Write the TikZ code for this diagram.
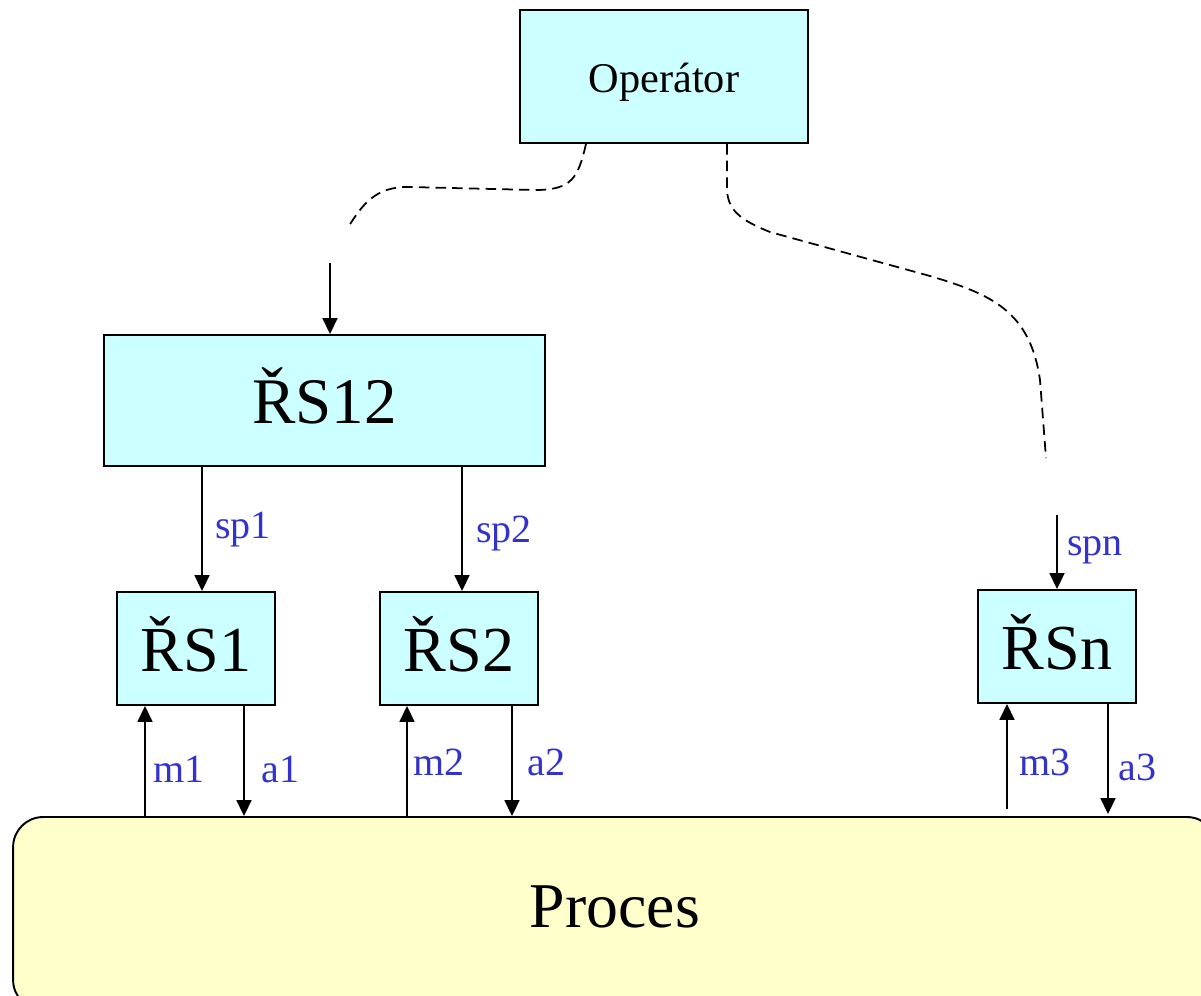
\documentclass[tikz,border=0pt]{standalone}
\usepackage{fontspec}
\setmainfont{Liberation Serif}
\usetikzlibrary{arrows.meta,calc}
\definecolor{boxcyan}{HTML}{CCFFFF}
\definecolor{procyellow}{HTML}{FFFFCC}
\definecolor{sigblue}{HTML}{3333CC}
\begin{document}
\begin{tikzpicture}[x=0.02cm,y=-0.02cm,
  block/.style={draw, line width=1.1pt, fill=boxcyan, inner sep=0pt,
    text height=0.92cm, text depth=0cm, font=\fontsize{36.5}{42}\selectfont},
  small/.style={minimum width=3.16cm, minimum height=2.26cm},
  arr/.style={line width=1pt, -{Triangle[length=0.32cm,width=0.3cm]}},
  link/.style={line width=1pt, dash pattern=on 6pt off 3.5pt},
  sig/.style={text=sigblue, inner sep=0pt, anchor=base west,
    font=\fontsize{22.8}{26}\selectfont}]

\clip (0,0) rectangle (1201,995);

% control stations and operator
\node[block, minimum width=5.76cm, minimum height=2.66cm, text height=0.62cm,
  font=\fontsize{24.1}{28}\selectfont] (op) at (664,76.5) {Operátor};
\node[block, minimum width=8.82cm, minimum height=2.62cm, text height=0.9cm,
  font=\fontsize{37}{42}\selectfont] (rs12) at (324.5,400.5) {ŘS12};
\node[block, small] (rs1) at (196,648.5) {ŘS1};
\node[block, small] (rs2) at (459,648.5) {ŘS2};
\node[block, small] (rsn) at (1057,646.5) {ŘSn};

% controlled process
\node[draw, line width=1.1pt, fill=procyellow, rounded corners=0.6cm,
  minimum width=24.08cm, minimum height=3.86cm, inner sep=0pt,
  text height=0.54cm, text depth=0cm, font=\fontsize{36.3}{42}\selectfont]
  (proc) at (615,913.5) {Proces};

% x positions of the vertical signal lines
\coordinate (xl) at (586,0);
\coordinate (xr) at (727,0);
\coordinate (xsp1) at (202,0);
\coordinate (xsp2) at (462,0);
\coordinate (xm1) at (145,0);
\coordinate (xa1) at (244,0);
\coordinate (xm2) at (407,0);
\coordinate (xa2) at (512,0);
\coordinate (xm3) at (1007,0);
\coordinate (xa3) at (1108,0);

% loose ends of the operator links
\coordinate (e1) at (347,229);
\coordinate (g1) at (330,263);
\coordinate (e2) at (1046,458);
\coordinate (g2) at (1057,515);

% operator links (dashed)
\draw[link] (xl |- op.south) .. controls (578,178) and (572,190) .. (535,190)
  -- (410,187) .. controls (375,186) and (362,205) .. (e1);
\draw[link] (xr |- op.south) -- (727,190) .. controls (728,210) and (740,220) .. (770,232)
  -- (930,276) .. controls (990,294) and (1030,310) .. (1040,380) -- (e2);

\draw[arr] (g1) -- (g1 |- rs12.north);
\draw[arr] (g2) -- (g2 |- rsn.north);

% setpoints
\draw[arr] (xsp1 |- rs12.south) -- (xsp1 |- rs1.north);
\draw[arr] (xsp2 |- rs12.south) -- (xsp2 |- rs2.north);

% measurements and actions
\draw[arr] (xm1 |- proc.north) -- (xm1 |- rs1.south);
\draw[arr] (xa1 |- rs1.south) -- (xa1 |- proc.north);
\draw[arr] (xm2 |- proc.north) -- (xm2 |- rs2.south);
\draw[arr] (xa2 |- rs2.south) -- (xa2 |- proc.north);
\draw[arr] ($(xm3 |- proc.north)+(0,-7)$) -- (xm3 |- rsn.south);
\draw[arr] (xa3 |- rsn.south) -- ($(xa3 |- proc.north)+(0,-2)$);

% signal labels
\node[sig] (lsp1) at (215,538) {sp1};
\node[sig] (lsp2) at (476,542) {sp2};
\node[sig] (lspn) at (1067,555) {spn};
\node[sig] (lm1) at (153,782) {m1};
\node[sig] (la1) at (261,782) {a1};
\node[sig] (lm2) at (413,775) {m2};
\node[sig] (la2) at (527,775) {a2};
\node[sig] (lm3) at (1019,775) {m3};
\node[sig] (la3) at (1118,780) {a3};
\end{tikzpicture}
\end{document}
